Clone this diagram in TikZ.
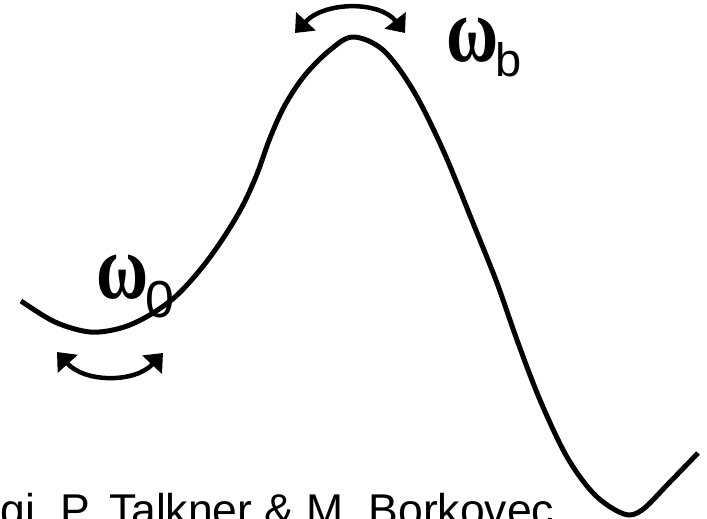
\documentclass[tikz,border=0pt]{standalone}
\usepackage{fontspec}
\setmainfont{Liberation Sans}
\newfontfamily\serifgreek{Liberation Serif}
\usetikzlibrary{arrows.meta}
\begin{document}
\begin{tikzpicture}[x=1pt,y=-1pt,
  curve/.style={line width=5pt, line join=round},
  osc/.style={line width=4.5pt, {Triangle[length=16pt,width=26pt]}-{Triangle[length=16pt,width=26pt]}},
  lbl/.style={inner sep=0pt, outer sep=0pt, anchor=base west},
  omega/.style={lbl, font=\serifgreek\bfseries\fontsize{66}{66}\selectfont}]
\useasboundingbox (0,0) rectangle (707,519);
\fill[white] (0,0) rectangle (707,519);
\clip (0,0) rectangle (707,519);
% potential curve
\draw[curve] plot[smooth, tension=0.55] coordinates {
  (21,301) (55,322) (90,332) (121,328) (148,316) (175,297) (200,270) (222,240)
  (242,207) (257,174) (270,138) (285,105) (305,75) (330,50) (353,37)
  (383,50) (413,90) (443,150) (473,223) (497,283) (517,340) (540,400)
  (567,457) (595,495) (624,514) (642,510) (668,484) (698,453)};
% barrier oscillation arrow
\coordinate (tl) at (295,33);
\coordinate (tr) at (405,33);
\draw[osc] (tl) .. controls (325,1) and (380,1) .. (tr);
% well oscillation arrow
\coordinate (bl) at (57,352);
\coordinate (br) at (163,353);
\draw[osc] (bl) .. controls (85,383) and (135,383) .. (br);
% labels
\node[omega] (wb) at (446,62) {\scalebox{1.08}[1.4]{ω}};
\node[lbl, font=\fontsize{47}{47}\selectfont] (b) at (495,77) {b};
\node[omega] (w0) at (96,298) {\scalebox{1.08}[1.4]{ω}};
\node[lbl, font=\fontsize{52}{52}\selectfont] (zero) at (145,317) {0};
\node[lbl, font=\fontsize{44.5}{44.5}\selectfont] (cite) at (1,525) {gi, P. Talkner \& M. Borkovec};
\end{tikzpicture}
\end{document}
